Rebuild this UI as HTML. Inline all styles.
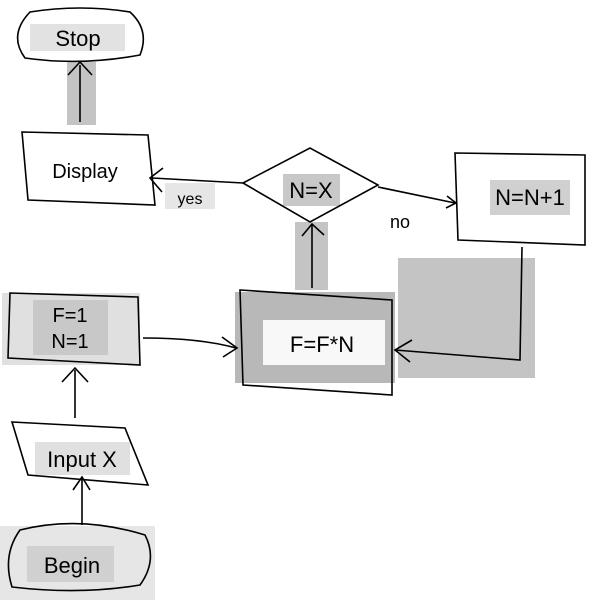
<!DOCTYPE html>
<html><head><style>html,body{margin:0;padding:0;background:#fff}svg{display:block}</style></head>
<body>
<svg width="600" height="600" viewBox="0 0 600 600" xmlns="http://www.w3.org/2000/svg" font-family="Liberation Sans, sans-serif">
<g fill="none" stroke="#000" stroke-width="1.6">
</g>
<!-- gray highlights -->
<rect x="30" y="24" width="95" height="27" fill="#e2e2e2"/>
<rect x="67" y="62" width="29" height="63" fill="#c4c4c4"/>
<rect x="165" y="183" width="50" height="26" fill="#e6e6e6"/>
<rect x="283" y="174" width="57" height="32" fill="#c8c8c8"/>
<rect x="490" y="180" width="80" height="35" fill="#d0d0d0"/>
<rect x="295" y="222" width="33" height="68" fill="#c4c4c4"/>
<rect x="398" y="258" width="137" height="120" fill="#c4c4c4"/>
<rect x="235" y="292" width="160" height="91" fill="#b8b8b8"/>
<rect x="263" y="320" width="122" height="45" fill="#f8f8f8"/>
<rect x="2" y="293" width="138" height="72" fill="#e0e0e0"/>
<rect x="33" y="300" width="75" height="55" fill="#c8c8c8"/>
<rect x="35" y="442" width="95" height="33" fill="#e0e0e0"/>
<rect x="0" y="526" width="155" height="74" fill="#e6e6e6"/>
<rect x="27" y="546" width="87" height="36" fill="#d0d0d0"/>
<g fill="none" stroke="#000" stroke-width="1.6">
<!-- stop -->
<path d="M30 12 Q80 4 130 12 Q150 30 140 55 Q80 66 25 58 Q8 35 30 12Z"/>
<line x1="80" y1="122" x2="80" y2="65"/><path d="M68 75 L80 62 L92 75"/>
<!-- display -->
<path d="M22 132 L148 135 L155 205 L28 200 Z"/>
<!-- diamond -->
<path d="M243 183 L310 148 L378 185 L310 222 Z"/>
<path d="M243 183 L152 178"/><path d="M163 168 L150 178 L162 192"/>
<line x1="312" y1="288" x2="312" y2="225"/><path d="M302 236 L312 224 L324 235"/>
<path d="M378 187 L455 203"/><path d="M447 196 L456 203 L446 208"/>
<!-- N=N+1 -->
<path d="M455 153 L585 155 L585 245 L458 240 Z"/>
<path d="M522 247 L520 360 L395 350"/><path d="M412 340 L395 350 L410 362"/>
<!-- F=F*N -->
<path d="M240 290 Q320 295 392 300 L392 395 L243 385 Z"/>
<path d="M143 338 Q200 338 236 348"/><path d="M222 337 L237 348 L223 357"/>
<!-- F=1 -->
<path d="M10 293 L138 297 L140 365 L8 358 Z"/>
<line x1="75" y1="418" x2="75" y2="370"/><path d="M62 382 L75 368 L88 382"/>
<!-- input -->
<path d="M12 422 L125 428 L148 485 L28 475 Z"/>
<line x1="82" y1="525" x2="82" y2="478"/><path d="M73 490 L82 477 L90 490"/>
<!-- begin -->
<path d="M20 530 Q80 515 145 535 Q158 560 140 585 Q80 595 12 587 Q2 555 20 530Z"/>
</g>
<g font-size="22" fill="#000" text-anchor="middle">
<text x="78" y="46">Stop</text>
<text x="85" y="178" font-size="20">Display</text>
<text x="190" y="204" font-size="16">yes</text>
<text x="311" y="198">N=X</text>
<text x="400" y="228" font-size="18">no</text>
<text x="530" y="205">N=N+1</text>
<text x="322" y="352">F=F*N</text>
<text x="70" y="322" font-size="20">F=1</text>
<text x="70" y="348" font-size="20">N=1</text>
<text x="82" y="467">Input X</text>
<text x="72" y="573">Begin</text>
</g>
</svg>
</body></html>
